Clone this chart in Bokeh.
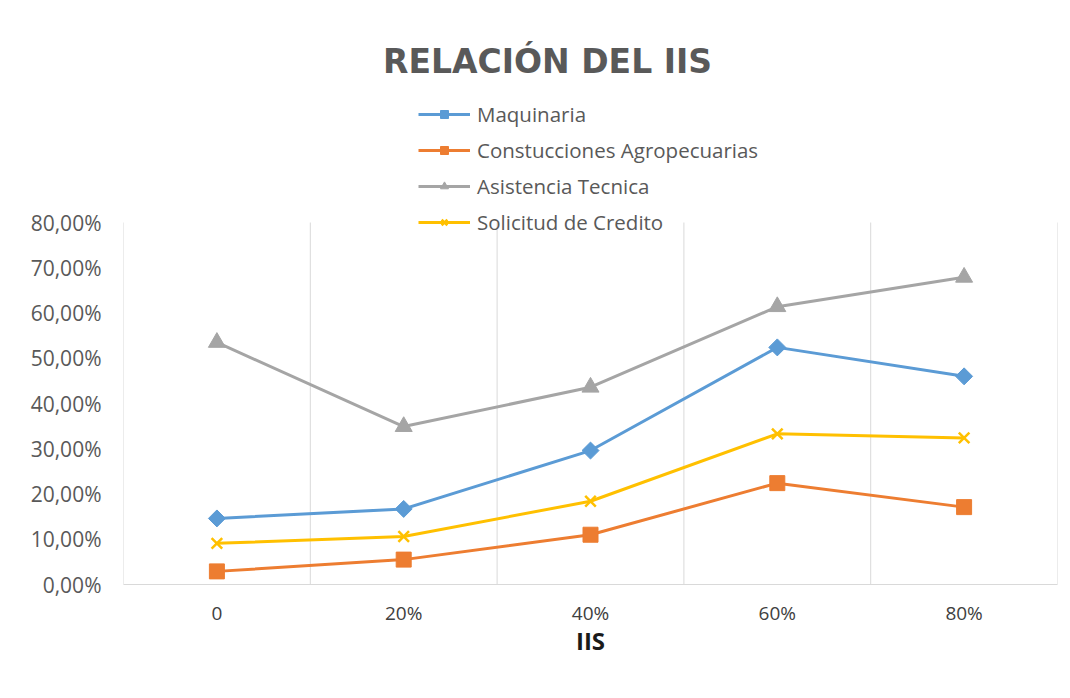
import math
from bokeh.plotting import figure
from bokeh.models import Range1d, FixedTicker, Legend, LegendItem, Label
from bokeh.embed import file_html
from bokeh.resources import INLINE

# ---- data ----
categories = ["0", "20%", "40%", "60%", "80%"]
maquinaria = [14.6, 16.7, 29.6, 52.4, 46.0]
construcciones = [2.9, 5.5, 11.0, 22.4, 17.1]
asistencia = [53.5, 34.9, 43.6, 61.4, 67.9]
credito = [9.1, 10.6, 18.4, 33.3, 32.4]
y_ticks = [0, 10, 20, 30, 40, 50, 60, 70, 80]
y_tick_labels = ["0,00%", "10,00%", "20,00%", "30,00%", "40,00%",
                 "50,00%", "60,00%", "70,00%", "80,00%"]
series_names = ["Maquinaria", "Constucciones Agropecuarias",
                "Asistencia Tecnica", "Solicitud de Credito"]
title_text = "RELACIÓN DEL IIS"
x_title = "IIS"

xs = list(range(len(categories)))
y_max = y_ticks[-1]

# ---- layout (pixels) ----
W, H = 1068, 696
FRAME_L, FRAME_R = 123, 1057       # plot area left / right
AXIS_Y, TOP_TICK_Y = 584, 222      # pixel rows of 0 % and 80 %
px_per_unit = (AXIS_Y - TOP_TICK_Y) / y_max
y_top = AXIS_Y / px_per_unit       # frame reaches the top of the canvas

p = figure(width=W, height=H, output_backend="svg", toolbar_location=None,
           x_range=Range1d(-0.5, len(categories) - 0.5),
           y_range=Range1d(0, y_top),
           min_border_left=FRAME_L, min_border_right=W - FRAME_R,
           min_border_top=0, min_border_bottom=H - AXIS_Y)
p.outline_line_color = None
p.background_fill_color = "white"
p.border_fill_color = "white"

FONT = "Open Sans"

# x axis
p.xaxis.ticker = FixedTicker(ticks=xs)
p.xaxis.major_label_overrides = {i: c for i, c in zip(xs, categories)}
p.xaxis.axis_line_color = "#d9d9d9"
p.xaxis.axis_line_width = 1
p.xaxis.major_tick_line_color = None
p.xaxis.minor_tick_line_color = None
p.xaxis.major_tick_out = 0
p.xaxis.major_label_standoff = 15
p.xaxis.major_label_text_font = FONT
p.xaxis.major_label_text_font_size = "19px"
p.xaxis.major_label_text_color = "#404040"
p.xaxis.axis_label = x_title
p.xaxis.axis_label_text_font = FONT
p.xaxis.axis_label_text_font_style = "bold"
p.xaxis.axis_label_text_font_size = "24px"
p.xaxis.axis_label_text_color = "#1a1a1a"
p.xaxis.axis_label_standoff = -5

# y axis
p.yaxis.ticker = FixedTicker(ticks=y_ticks)
p.yaxis.major_label_overrides = {t: l for t, l in zip(y_ticks, y_tick_labels)}
p.yaxis.axis_line_color = None
p.yaxis.major_tick_line_color = None
p.yaxis.minor_tick_line_color = None
p.yaxis.major_tick_out = 0
p.yaxis.major_label_standoff = 22
p.yaxis.major_label_text_font = FONT
p.yaxis.major_label_text_font_size = "21px"
p.yaxis.major_label_text_color = "#595959"

# no default grids; vertical separators between categories, 0..80 % tall
p.xgrid.grid_line_color = None
p.ygrid.grid_line_color = None
bounds = [i - 0.5 for i in range(len(categories) + 1)]
p.segment(x0=bounds, y0=[0] * len(bounds), x1=bounds, y1=[y_max] * len(bounds),
          line_color="#d9d9d9", line_width=1)

colors = ["#5B9BD5", "#ED7D31", "#A5A5A5", "#FFC000"]
datasets = [maquinaria, construcciones, asistencia, credito]

items = []
for k, (name, data, col) in enumerate(zip(series_names, datasets, colors)):
    ln = p.line(xs, data, line_color=col, line_width=3)
    if k == 0:
        sc = p.scatter(xs, data, marker="square", angle=math.pi / 4, size=12,
                       fill_color=col, line_color=col)
    elif k == 1:
        sc = p.scatter(xs, data, marker="square", size=15,
                       fill_color=col, line_color=col)
    elif k == 2:
        sc = p.scatter(xs, data, marker="triangle", size=17,
                       fill_color=col, line_color=col)
    else:
        sc = p.scatter(xs, data, marker="x", size=15, line_color=col, line_width=2.5)
    items.append(LegendItem(label=name, renderers=[ln, sc]))

legend = Legend(items=items, location=(418 - FRAME_L, AXIS_Y - 236),
                orientation="vertical",
                glyph_width=52, glyph_height=20, label_height=20, spacing=8,
                label_standoff=7, padding=0, margin=0,
                border_line_color=None, background_fill_alpha=0,
                label_text_font=FONT, label_text_font_size="20.5px",
                label_text_color="#595959")
p.add_layout(legend, "center")

# chart title, placed in data units derived from the pixel layout
title_cx, title_cy = 547, 61
title = Label(x=-0.5 + (title_cx - FRAME_L) * len(categories) / (FRAME_R - FRAME_L),
              y=(AXIS_Y - title_cy) / px_per_unit,
              text=title_text, text_font="DejaVu Sans", text_font_style="bold",
              text_font_size="33px", text_color="#595959",
              text_align="center", text_baseline="middle")
p.add_layout(title)

open("out.html", "w").write(file_html(p, INLINE))
